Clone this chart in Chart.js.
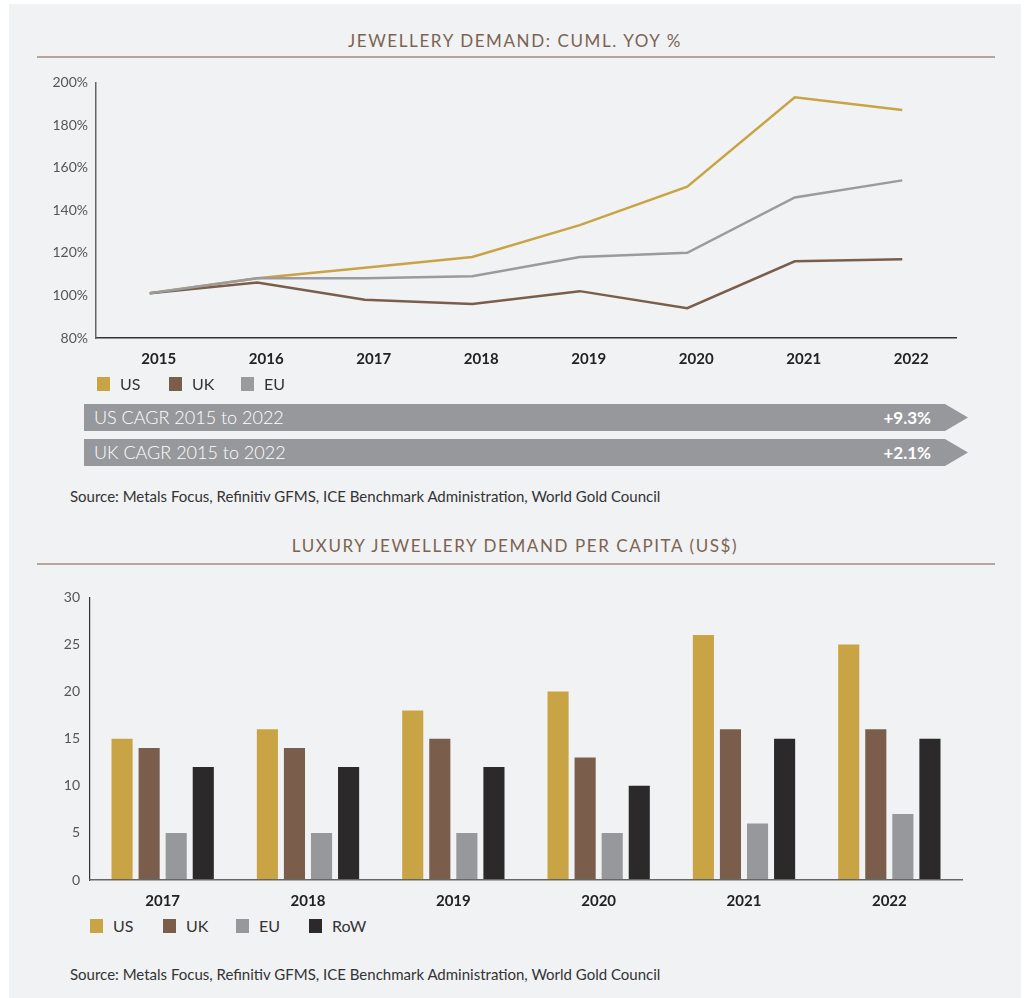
<!DOCTYPE html>
<html>
<head>
<meta charset="utf-8">
<script src="https://cdn.jsdelivr.net/npm/chart.js@4.4.1/dist/chart.umd.min.js"></script>
<style>
  body { margin: 0; background: #fff; font-family: 'Lato', sans-serif; }
  #panel { position: absolute; left: 9px; top: 4px; width: 1012px; height: 994px; background: #f1f2f4; }
  .abs { position: absolute; }
  .title { left: 0; width: 1030px; text-align: center; font-size: 17px; letter-spacing: 1.6px; color: #7b6352; }
  .rule { left: 37px; width: 958px; height: 2px; background: #b5a59a; }
  .legend { display: flex; align-items: center; font-size: 16px; color: #333; }
  .legend span.sw { display: inline-block; width: 13px; height: 14px; margin-right: 10px; }
  .legend div { display: flex; align-items: center; }
  .arrow { left: 84px; width: 884px; height: 27px; background: #97989b; color: #fff;
    clip-path: polygon(0 0, 861px 0, 884px 50%, 861px 100%, 0 100%); }
  .arrow .l { position: absolute; left: 10px; top: 2px; font-size: 18px; font-weight: 300; }
  .arrow .r { position: absolute; right: 37px; top: 3px; font-size: 17px; font-weight: 700; }
  .src { left: 70px; font-size: 15px; color: #333; }
</style>
</head>
<body>
<div id="panel"></div>

<div class="abs title" style="top:30px">JEWELLERY DEMAND: CUML. YOY %</div>
<div class="abs rule" style="top:56px"></div>
<div class="abs" style="left:30px; top:66px; width:950px; height:310px"><canvas id="lineChart"></canvas></div>
<div class="abs legend" id="lineLegend" style="left:97px; top:374px"></div>

<div class="abs arrow" style="top:404px"><span class="l">US CAGR 2015 to 2022</span><span class="r">+9.3%</span></div>
<div class="abs arrow" style="top:439px"><span class="l">UK CAGR 2015 to 2022</span><span class="r">+2.1%</span></div>
<div class="abs src" style="top:487px">Source: Metals Focus, Refinitiv GFMS, ICE Benchmark Administration, World Gold Council</div>

<div class="abs title" style="top:535px">LUXURY JEWELLERY DEMAND PER CAPITA (US$)</div>
<div class="abs rule" style="top:563px"></div>
<div class="abs" style="left:30px; top:579px; width:950px; height:336px"><canvas id="barChart"></canvas></div>
<div class="abs legend" id="barLegend" style="left:90px; top:916px"></div>
<div class="abs src" style="top:965px">Source: Metals Focus, Refinitiv GFMS, ICE Benchmark Administration, World Gold Council</div>

<script>
// cumulative yoy demand, % of 2015 level
const lineYears = ['2015', '2016', '2017', '2018', '2019', '2020', '2021', '2022'];
const usCuml = [101, 108, 113, 118, 133, 151, 193, 187];
const ukCuml = [101, 106, 98, 96, 102, 94, 116, 117];
const euCuml = [101, 108, 108, 109, 118, 120, 146, 154];
const lineTicks = [80, 100, 120, 140, 160, 180, 200];

// per capita demand, US$
const barYears = ['2017', '2018', '2019', '2020', '2021', '2022'];
const usPerCap = [15, 16, 18, 20, 26, 25];
const ukPerCap = [14, 14, 15, 13, 16, 16];
const euPerCap = [5, 5, 5, 5, 6, 7];
const rowPerCap = [12, 12, 12, 10, 15, 15];
const barTicks = [0, 5, 10, 15, 20, 25, 30];

const GOLD = '#c9a444', BROWN = '#7a5e4b', GREY = '#97989b', LGREY = '#9b9b9d', BLACK = '#2b292a';

function makeLegend(id, items, gap) {
    const el = document.getElementById(id);
    items.forEach(([name, color], i) => {
        const d = document.createElement('div');
        d.style.width = (i < items.length - 1 ? gap : 60) + 'px';
        d.innerHTML = '<span class="sw" style="background:' + color + '"></span>' + name;
        el.appendChild(d);
    });
}
makeLegend('lineLegend', [['US', GOLD], ['UK', BROWN], ['EU', LGREY]], 72);
makeLegend('barLegend', [['US', GOLD], ['UK', BROWN], ['EU', GREY], ['RoW', BLACK]], 73);

const lineDs = (label, data, color) => ({
    label, data, borderColor: color, backgroundColor: color,
    borderWidth: 2.5, pointRadius: 0, tension: 0, fill: false
});

new Chart(document.getElementById('lineChart'), {
    type: 'line',
    data: {
        labels: lineYears,
        datasets: [lineDs('EU', euCuml, LGREY), lineDs('UK', ukCuml, BROWN), lineDs('US', usCuml, GOLD)]
    },
    options: {
        animation: false,
        responsive: true,
        maintainAspectRatio: false,
        layout: { padding: { top: 15, right: 24, left: 0, bottom: 0 } },
        plugins: { legend: { display: false }, tooltip: { enabled: false } },
        scales: {
            x: {
                offset: true,
                grid: { display: false, drawTicks: false },
                border: { color: '#333', width: 1.5 },
                ticks: { font: { family: 'Lato', size: 15, weight: 'bold' }, color: '#222', padding: 12, labelOffset: 9 },
                afterFit: s => { s.height = 38; }
            },
            y: {
                min: 80, max: 200,
                afterBuildTicks: s => { s.ticks = lineTicks.map(v => ({ value: v })); },
                grid: { display: false, drawTicks: false },
                border: { color: '#666', width: 1.5 },
                ticks: { font: { family: 'Lato', size: 14 }, color: '#555', padding: 8, callback: v => v + '%' },
                afterFit: s => { s.width = 66; }
            }
        }
    }
});

const barDs = (label, data, color) => ({
    label, data, backgroundColor: color, borderWidth: 0,
    barPercentage: 0.78, categoryPercentage: 0.745
});

new Chart(document.getElementById('barChart'), {
    type: 'bar',
    data: {
        labels: barYears,
        datasets: [barDs('US', usPerCap, GOLD), barDs('UK', ukPerCap, BROWN), barDs('EU', euPerCap, GREY), barDs('RoW', rowPerCap, BLACK)]
    },
    options: {
        animation: false,
        responsive: true,
        maintainAspectRatio: false,
        layout: { padding: { top: 18, right: 18, left: 0, bottom: 0 } },
        plugins: { legend: { display: false }, tooltip: { enabled: false } },
        scales: {
            x: {
                grid: { display: false, drawTicks: false },
                border: { color: '#666', width: 1.5, z: 1 },
                ticks: { font: { family: 'Lato', size: 15, weight: 'bold' }, color: '#222', padding: 12 },
                afterFit: s => { s.height = 35; }
            },
            y: {
                min: 0, max: 30,
                afterBuildTicks: s => { s.ticks = barTicks.map(v => ({ value: v })); },
                grid: { display: false, drawTicks: false },
                border: { color: '#333', width: 1.2 },
                ticks: { font: { family: 'Lato', size: 14 }, color: '#555', padding: 10 },
                afterFit: s => { s.width = 60; }
            }
        }
    }
});
</script>
</body>
</html>
